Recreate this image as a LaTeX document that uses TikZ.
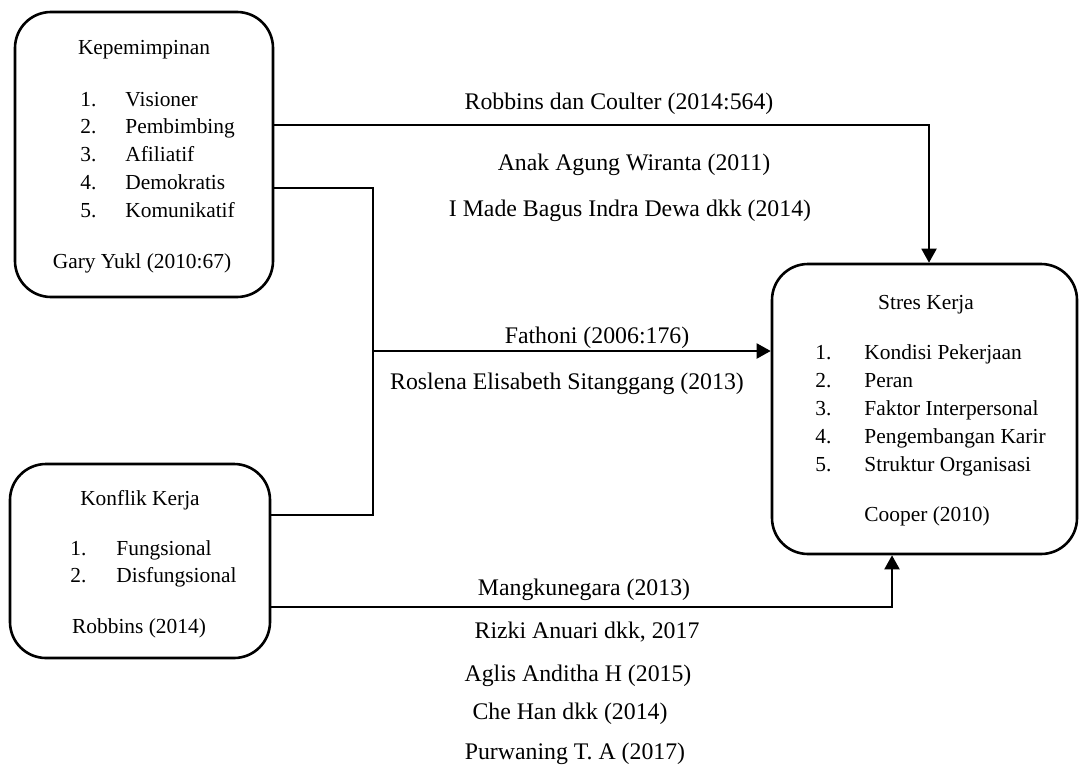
\documentclass[tikz,border=0pt]{standalone}
\usepackage{fontspec}
\setmainfont{Liberation Serif}
\usetikzlibrary{arrows.meta,positioning}

\begin{document}
\begin{tikzpicture}[x=0.5pt,y=-0.5pt,
    varbox/.style={draw,line width=1.3pt,rounded corners=18pt,inner sep=0pt},
    boxtxt/.style={font=\fontsize{10.7}{13}\selectfont,inner sep=0pt},
    lbl/.style={font=\fontsize{11.9}{14}\selectfont,inner sep=0pt,anchor=base},
    link/.style={line width=0.7pt},
    arr/.style={line width=1pt,-{Triangle[length=7pt,width=7.5pt]}}]
      \useasboundingbox (0,0) rectangle (1079,765);

      % variabel
      \node[varbox,minimum width=129pt,minimum height=142.5pt] (kep) at (144,154.5) {};
      \node[varbox,minimum width=130pt,minimum height=97pt] (konf) at (140,561) {};
      \node[varbox,minimum width=152.5pt,minimum height=145pt] (stres) at (924.5,409) {};

      % isi kotak kepemimpinan
      \node[boxtxt,anchor=base] (kept) at (144,55) {Kepemimpinan};
      \foreach \i/\t in {1/Visioner,2/Pembimbing,3/Afiliatif,4/Demokratis,5/Komunikatif}{
        \node[boxtxt,anchor=base west] (kepn\i) at (80,{78.25+27.75*\i}) {\i.};
        \node[boxtxt,anchor=base west] (kepi\i) at (125,{78.25+27.75*\i}) {\t};
      }
      \node[boxtxt,anchor=base] (keps) at (142,268) {Gary Yukl (2010:67)};

      % isi kotak konflik kerja
      \node[boxtxt,anchor=base] (konft) at (140,505) {Konflik Kerja};
      \foreach \i/\t in {1/Fungsional,2/Disfungsional}{
        \node[boxtxt,anchor=base west] (konfn\i) at (70,{528+27*\i}) {\i.};
        \node[boxtxt,anchor=base west] (konfi\i) at (116,{528+27*\i}) {\t};
      }
      \node[boxtxt,anchor=base] (konfs) at (139,633) {Robbins (2014)};

      % isi kotak stres kerja
      \node[boxtxt,anchor=base] (strest) at (926,309) {Stres Kerja};
      \foreach \i/\t in {1/Kondisi Pekerjaan,2/Peran,3/Faktor Interpersonal,4/Pengembangan Karir,5/Struktur Organisasi}{
        \node[boxtxt,anchor=base west] (stresn\i) at (815,{331+28*\i}) {\i.};
        \node[boxtxt,anchor=base west] (stresi\i) at (864,{331+28*\i}) {\t};
      }
      \node[boxtxt,anchor=base west] (stress) at (864,521) {Cooper (2010)};

      % hubungan
      \coordinate (join) at (373,351);
      \draw[arr] ([yshift=14.75pt]kep.east) -| ([xshift=2.25pt]stres.north);
      \draw[link] ([yshift=-16.75pt]kep.east) -| (join) |- ([yshift=23pt]konf.east);
      \draw[arr] (join) -- (stres.west |- join);
      \draw[arr] ([yshift=-23pt]konf.east) -| ([xshift=-16.25pt]stres.south);

      % sumber
      \node[lbl] (src1) at (619,109) {Robbins dan Coulter (2014:564)};
      \node[lbl] (src2) at (634,170) {Anak Agung Wiranta (2011)};
      \node[lbl] (src3) at (630,216) {I Made Bagus Indra Dewa dkk (2014)};
      \node[lbl] (src4) at (597,343) {Fathoni (2006:176)};
      \node[lbl] (src5) at (567,389) {Roslena Elisabeth Sitanggang (2013)};
      \node[lbl] (src6) at (584,595) {Mangkunegara (2013)};
      \node[lbl] (src7) at (587,638) {Rizki Anuari dkk, 2017};
      \node[lbl] (src8) at (578,681) {Aglis Anditha H (2015)};
      \node[lbl] (src9) at (570,719) {Che Han dkk (2014)};
      \node[lbl] (src10) at (575,759) {Purwaning T. A (2017)};
    \end{tikzpicture}
\end{document}
